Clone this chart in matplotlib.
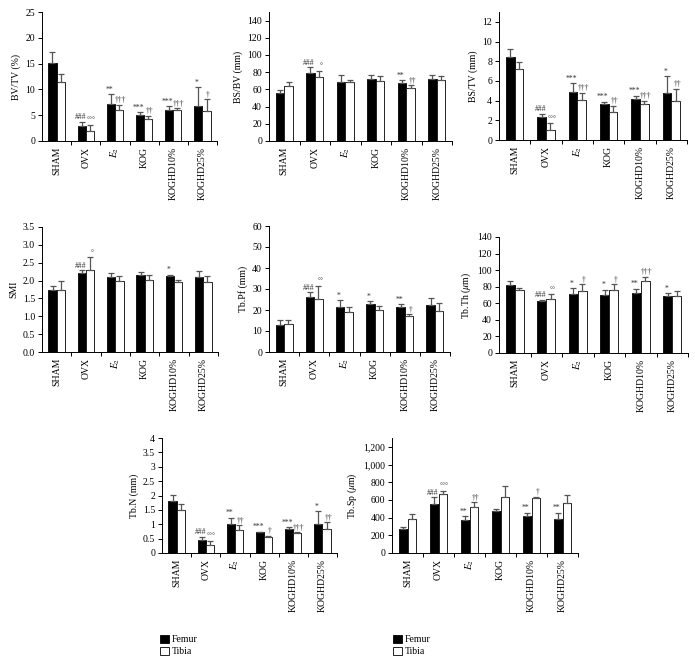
import numpy as np
import matplotlib
matplotlib.use('Agg')
import matplotlib.pyplot as plt
from matplotlib.patches import Patch
from matplotlib.ticker import FuncFormatter, FixedLocator

plt.rcParams['font.family'] = ['Liberation Serif', 'DejaVu Serif']
plt.rcParams['mathtext.fontset'] = 'stix'
plt.rcParams['font.size'] = 7

groups = ['SHAM', 'OVX', r'$E_2$', 'KOG', 'KOGHD10%', 'KOGHD25%']

# BV/TV (%)
bvtv_femur = [15.1, 3.0, 7.2, 5.1, 6.1, 6.7]
bvtv_femur_sd = [2.1, 0.7, 1.9, 0.5, 0.6, 3.7]
bvtv_tibia = [11.4, 1.9, 6.0, 4.2, 6.0, 5.8]
bvtv_tibia_sd = [1.5, 1.2, 1.0, 0.7, 0.4, 2.3]
bvtv_femur_sig = ['', '###', '**', '***', '***', '*']
bvtv_tibia_sig = ['', '°°°', '†††', '††', '†††', '†']

# BS/BV (mm)
bsbv_femur = [56, 79, 69, 72, 67.5, 72.5]
bsbv_femur_sd = [3.5, 7, 8, 5, 3.5, 4.5]
bsbv_tibia = [64, 74, 68.5, 69.5, 62, 70.5]
bsbv_tibia_sd = [4.5, 7.5, 2, 6, 3, 5]
bsbv_femur_sig = ['', '###', '', '', '**', '']
bsbv_tibia_sig = ['', '°', '', '', '††', '']

# BS/TV (mm)
bstv_femur = [8.4, 2.3, 4.9, 3.7, 4.2, 4.8]
bstv_femur_sd = [0.85, 0.35, 0.9, 0.2, 0.3, 1.7]
bstv_tibia = [7.2, 1.0, 4.1, 2.85, 3.7, 4.0]
bstv_tibia_sd = [0.75, 0.7, 0.7, 0.65, 0.3, 1.2]
bstv_femur_sig = ['', '###', '***', '***', '***', '*']
bstv_tibia_sig = ['', '°°°', '†††', '††', '†††', '††']

# SMI
smi_femur = [1.73, 2.22, 2.11, 2.15, 2.13, 2.09]
smi_femur_sd = [0.13, 0.07, 0.09, 0.1, 0.04, 0.18]
smi_tibia = [1.74, 2.29, 1.98, 2.01, 1.97, 1.96]
smi_tibia_sd = [0.25, 0.36, 0.16, 0.14, 0.05, 0.17]
smi_femur_sig = ['', '###', '', '', '*', '']
smi_tibia_sig = ['', '°', '', '', '', '']

# Tb.Pf (mm)
tbpf_femur = [12.9, 26.1, 21.4, 22.8, 21.4, 22.2]
tbpf_femur_sd = [2.3, 2.3, 3.4, 1.4, 1.5, 3.7]
tbpf_tibia = [13.2, 25.1, 19.1, 20.0, 17.1, 19.5]
tbpf_tibia_sd = [2.0, 6.3, 2.1, 2.1, 1.0, 3.7]
tbpf_femur_sig = ['', '###', '*', '*', '**', '']
tbpf_tibia_sig = ['', '°°', '', '', '†', '']

# Tb.Th (um)
tbth_femur = [82.5, 62.3, 71.6, 70.0, 72.8, 68.2]
tbth_femur_sd = [4, 2, 6.8, 6.4, 4.8, 3.8]
tbth_tibia = [76.3, 65.2, 75.2, 76.0, 87.3, 69.0]
tbth_tibia_sd = [1.8, 5.6, 7.7, 7.0, 4.8, 6.2]
tbth_femur_sig = ['', '###', '*', '*', '**', '*']
tbth_tibia_sig = ['', '°°', '†', '†', '†††', '']

# Tb.N (mm)
tbn_femur = [1.82, 0.46, 1.0, 0.72, 0.85, 1.01]
tbn_femur_sd = [0.21, 0.1, 0.23, 0.02, 0.05, 0.45]
tbn_tibia = [1.51, 0.29, 0.8, 0.545, 0.70, 0.82]
tbn_tibia_sd = [0.19, 0.13, 0.17, 0.05, 0.03, 0.25]
tbn_femur_sig = ['', '###', '**', '***', '***', '*']
tbn_tibia_sig = ['', '°°°', '††', '†', '†††', '††']

# Tb.Sp (um)
tbsp_femur = [268, 557, 372, 479, 420, 379]
tbsp_femur_sd = [22, 75, 48, 23, 37, 78]
tbsp_tibia = [379, 665, 520, 628, 620, 561]
tbsp_tibia_sd = [59, 38, 56, 130, 16, 97]
tbsp_femur_sig = ['', '###', '**', '', '**', '**']
tbsp_tibia_sig = ['', '°°°', '††', '', '†', '']

W, H = 695, 666


def box(l, r, t, b):
    return [l / W, 1 - b / H, (r - l) / W, (b - t) / H]


fmt_g = FuncFormatter(lambda v, p: '%g' % v)
fmt_1 = FuncFormatter(lambda v, p: '%.1f' % v)
fmt_c = FuncFormatter(lambda v, p: '{:,.0f}'.format(v))

panels = [
    (box(42, 217, 12, 141), 'BV/TV (%)', bvtv_femur, bvtv_femur_sd, bvtv_tibia, bvtv_tibia_sd,
     bvtv_femur_sig, bvtv_tibia_sig, 25, np.arange(0, 26, 5), fmt_g),
    (box(269, 452, 12, 141), 'BS/BV (mm)', bsbv_femur, bsbv_femur_sd, bsbv_tibia, bsbv_tibia_sd,
     bsbv_femur_sig, bsbv_tibia_sig, 150, np.arange(0, 141, 20), fmt_g),
    (box(499, 687, 12, 140), 'BS/TV (mm)', bstv_femur, bstv_femur_sd, bstv_tibia, bstv_tibia_sd,
     bstv_femur_sig, bstv_tibia_sig, 13, np.arange(0, 13, 2), fmt_g),
    (box(42, 218, 227, 352), 'SMI', smi_femur, smi_femur_sd, smi_tibia, smi_tibia_sd,
     smi_femur_sig, smi_tibia_sig, 3.5, np.arange(0, 3.6, 0.5), fmt_1),
    (box(269, 450, 226, 352), 'Tb.Pf (mm)', tbpf_femur, tbpf_femur_sd, tbpf_tibia, tbpf_tibia_sd,
     tbpf_femur_sig, tbpf_tibia_sig, 60, np.arange(0, 61, 10), fmt_g),
    (box(499, 688, 237, 353), r'Tb.Th ($\mu$m)', tbth_femur, tbth_femur_sd, tbth_tibia, tbth_tibia_sd,
     tbth_femur_sig, tbth_tibia_sig, 140, np.arange(0, 141, 20), fmt_g),
    (box(162, 337, 438, 553), 'Tb.N (mm)', tbn_femur, tbn_femur_sd, tbn_tibia, tbn_tibia_sd,
     tbn_femur_sig, tbn_tibia_sig, 4, np.arange(0, 4.1, 0.5), fmt_g),
    (box(392, 578, 438, 553), r'Tb.Sp ($\mu$m)', tbsp_femur, tbsp_femur_sd, tbsp_tibia, tbsp_tibia_sd,
     tbsp_femur_sig, tbsp_tibia_sig, 1300, np.arange(0, 1201, 200), fmt_c),
]

fig = plt.figure(figsize=(W / 100, H / 100), dpi=100)
x = np.arange(len(groups))
bw = 0.28
errkw = dict(ecolor='#555555', elinewidth=0.9, capsize=2.2, capthick=0.9)

for (pos, ylab, fm, fsd, tm, tsd, fsig, tsig, ymax, yt, fmt) in panels:
    ax = fig.add_axes(pos)
    ax.bar(x - bw / 2, fm, bw, color='black', edgecolor='black', linewidth=0.6,
           yerr=[np.zeros(len(fm)), fsd], error_kw=errkw)
    ax.bar(x + bw / 2, tm, bw, color='white', edgecolor='#222222', linewidth=0.7,
           yerr=[np.zeros(len(tm)), tsd], error_kw=errkw)
    for i in range(len(groups)):
        if fsig[i]:
            ax.annotate(fsig[i], (x[i] - bw / 2, fm[i] + fsd[i]), xytext=(-1, 0.3),
                        textcoords='offset points', ha='center', va='bottom',
                        fontsize=5.5, color='#333333')
        if tsig[i]:
            ax.annotate(tsig[i], (x[i] + bw / 2, tm[i] + tsd[i]), xytext=(1.2, 0.3),
                        textcoords='offset points', ha='center', va='bottom',
                        fontsize=5.5, color='#333333')
    ax.set_xlim(-0.5, 5.5)
    ax.set_ylim(0, ymax)
    ax.set_yticks(yt)
    ax.yaxis.set_major_formatter(fmt)
    ax.set_xticks(x)
    ax.set_xticklabels(groups, rotation=90)
    ax.tick_params(axis='x', length=0, pad=4)
    ax.xaxis.set_minor_locator(FixedLocator(x + 0.5))
    ax.tick_params(axis='x', which='minor', length=3, width=0.7)
    ax.tick_params(axis='y', length=3, width=0.7, pad=2)
    ax.set_ylabel(ylab, labelpad=3)
    for s in ['top', 'right']:
        ax.spines[s].set_visible(False)
    for s in ['left', 'bottom']:
        ax.spines[s].set_linewidth(0.7)

handles = [Patch(facecolor='black', edgecolor='black', linewidth=0.6),
           Patch(facecolor='white', edgecolor='black', linewidth=0.6)]
for lx in [155, 388]:
    fig.legend(handles, ['Femur', 'Tibia'], loc='upper left',
               bbox_to_anchor=(lx / W, 1 - 630 / H), frameon=False,
               handlelength=0.9, handleheight=0.9, handletextpad=0.3,
               labelspacing=0.25, borderpad=0, fontsize=7)

fig.savefig('out.png', dpi=100)
